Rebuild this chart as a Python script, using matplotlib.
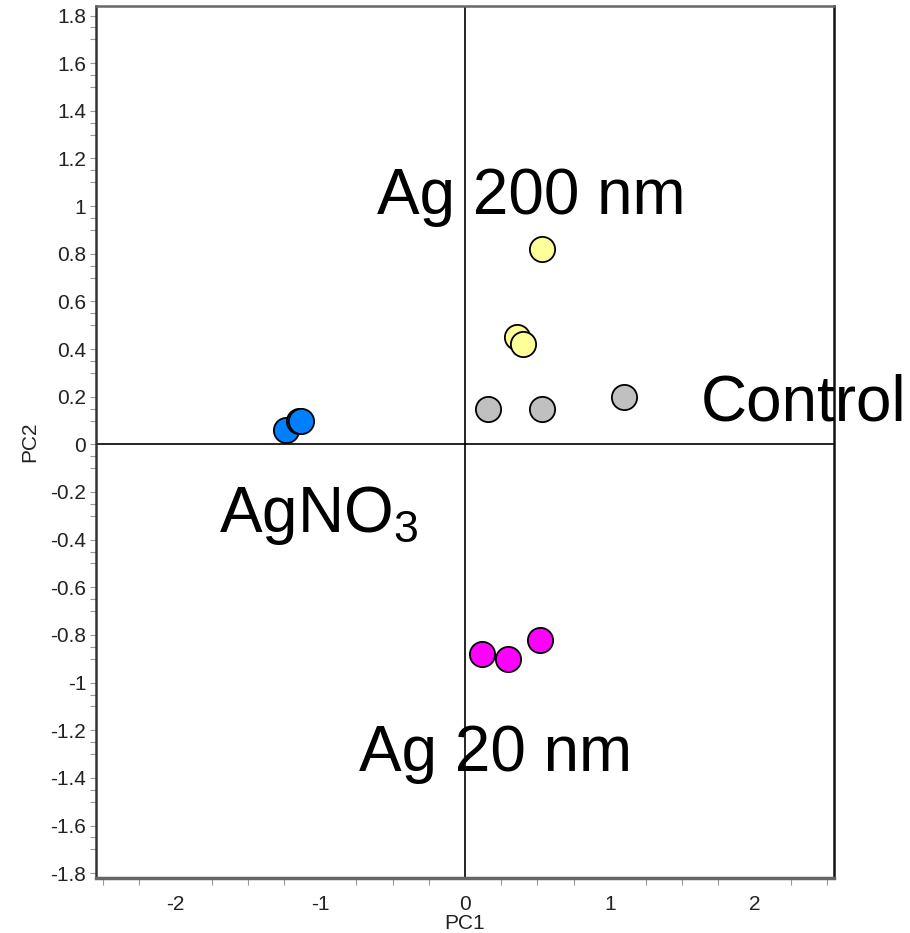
import numpy as np
import matplotlib
matplotlib.use('Agg')
import matplotlib.pyplot as plt

plt.rcParams['font.family'] = ['Liberation Sans', 'DejaVu Sans']
plt.rcParams['mathtext.fontset'] = 'custom'
plt.rcParams['mathtext.rm'] = 'Liberation Sans'

# PCA scores
ag200_pc1 = [0.53, 0.36, 0.40]
ag200_pc2 = [0.82, 0.45, 0.42]
ctrl_pc1 = [0.16, 0.53, 1.10]
ctrl_pc2 = [0.15, 0.15, 0.20]
agno3_pc1 = [-1.24, -1.15, -1.13]
agno3_pc2 = [0.06, 0.10, 0.10]
ag20_pc1 = [0.12, 0.30, 0.52]
ag20_pc2 = [-0.88, -0.90, -0.82]

x_ticks = [-2, -1, 0, 1, 2]
y_ticks = np.round(np.arange(-1.8, 1.81, 0.2), 1)

fig = plt.figure(figsize=(9.1, 9.33), dpi=100)
ax = fig.add_axes([0.1055, 0.059, 0.811, 0.9346])

ax.set_xlim(-2.55, 2.55)
ax.set_ylim(-1.82, 1.84)

# zero lines
ax.axhline(0, color='black', lw=1.2, zorder=1)
ax.axvline(0, color='black', lw=1.2, zorder=1)

mk = dict(s=330, edgecolors='black', linewidths=1.3, zorder=3)
ax.scatter(ag200_pc1, ag200_pc2, c='#FFFF99', **mk)
ax.scatter(ctrl_pc1, ctrl_pc2, c='#C0C0C0', **mk)
ax.scatter(agno3_pc1, agno3_pc2, c='#0080FF', **mk)
ax.scatter(ag20_pc1, ag20_pc2, c='#FF00FF', **mk)

big = 46
ax.text(0.46, 1.04, 'Ag 200 nm', fontsize=big, ha='center', va='center')
ax.text(1.63, 0.17, 'Control', fontsize=big, ha='left', va='center', clip_on=False)
ax.text(-1.01, -0.30, r'AgNO$_\mathregular{3}$', fontsize=big, ha='center', va='center')
ax.text(0.21, -1.30, 'Ag 20 nm', fontsize=big, ha='center', va='center')

# ticks
ax.set_xticks(x_ticks)
ax.set_xticklabels([str(t) for t in x_ticks])
ax.set_xticks([v for v in np.arange(-2.5, 2.51, 0.25) if abs(v - round(v)) > 1e-6], minor=True)
ax.set_yticks(y_ticks)
ax.set_yticklabels(['0' if t == 0 else ('%g' % t) for t in y_ticks])
ymin = []
for v in y_ticks:
    ymin += [v - 0.05, v - 0.1]
ax.set_yticks([v for v in ymin if v > -1.82], minor=True)

ax.tick_params(axis='x', which='major', length=0, pad=12, labelsize=15, labelcolor='#222222')
ax.tick_params(axis='x', which='minor', length=5, width=0.8, color='#999999', direction='out')
ax.tick_params(axis='y', which='major', length=4, width=0.8, color='#999999', pad=3,
               labelsize=15, labelcolor='#222222')
ax.tick_params(axis='y', which='minor', length=4, width=0.8, color='#999999')

ax.set_xlabel('PC1', fontsize=15, labelpad=0, color='#222222')
ax.set_ylabel('PC2', fontsize=15, labelpad=8, color='#222222')

ax.spines['left'].set_color('#333333')
ax.spines['left'].set_linewidth(1.8)
ax.spines['right'].set_color('#111111')
ax.spines['right'].set_linewidth(1.8)
ax.spines['top'].set_color('#666666')
ax.spines['top'].set_linewidth(1.8)
ax.spines['bottom'].set_color('#666666')
ax.spines['bottom'].set_linewidth(2.5)

fig.savefig('out.png', dpi=100)
